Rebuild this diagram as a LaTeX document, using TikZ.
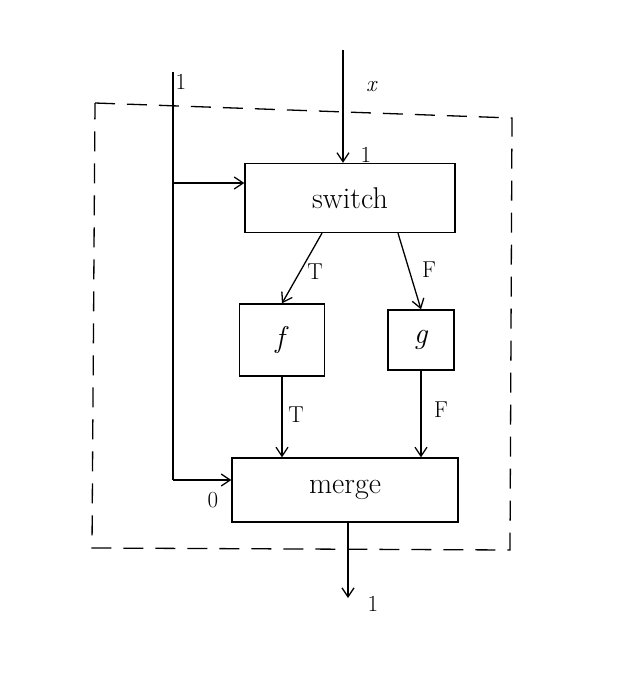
\documentclass[tikz,border=0pt]{standalone}
\usepackage{fontspec}
\usepackage{tikz}
\usetikzlibrary{arrows.meta,calc}

\begin{document}
\begin{tikzpicture}[x=1pt, y=-1pt, >={Straight Barb[length=9pt,width=12pt]}, line width=1.3pt,
		box/.style={draw, inner sep=0pt, font=\fontsize{30}{32}\selectfont},
		lbl/.style={font=\fontsize{23}{25}\selectfont}]
		\useasboundingbox (0,0) rectangle (628,694);
		\node[box, minimum width=210, minimum height=69] (switch) at (350,198) {switch};
		\node[box, minimum width=85, minimum height=72] (f) at (282,340) {\textit{f}};
		\node[box, minimum width=66, minimum height=60] (g) at (421,340) {\textit{g}};
		\node[box, minimum width=226, minimum height=64] (merge) at (345,490) {merge};
		\coordinate (X) at (343,50);
		\coordinate (C) at (173,72);
		\coordinate (Out) at (348,598);
		% dashed enclosure
		\draw[dash pattern=on 20pt off 12pt] (95,103) -- (512,118) -- (510,550) -- (92,548) -- cycle;
		% control line
		\draw (C) -- (173,480);
		\draw[->] (173,183) -- (switch.west |- 0,183);
		\draw[->] (173,480) -- (merge.west |- 0,480);
		\node[lbl] at (181,82) {1};
		\node[lbl] at (213,500) {0};
		% data input and output
		\draw[->] (X) -- (X |- switch.north);
		\node[lbl] at (372,87) {\textit{x}};
		\node[lbl] at (366,155) {1};
		\draw[->] (merge.south -| Out) -- (Out);
		\node[lbl] at (373,604) {1};
		% branches
		\draw[->] ($(switch.south)+(-28,0)$) -- (f.north);
		\draw[->] ($(switch.south)+(48,0)$) -- (g.north);
		\node[lbl] at (315,272) {T};
		\node[lbl] at (429,270) {F};
		\draw[->] (f.south) -- (f.south |- merge.north);
		\draw[->] (g.south) -- (g.south |- merge.north);
		\node[lbl] at (296,415) {T};
		\node[lbl] at (441,410) {F};
	\end{tikzpicture}
\end{document}
